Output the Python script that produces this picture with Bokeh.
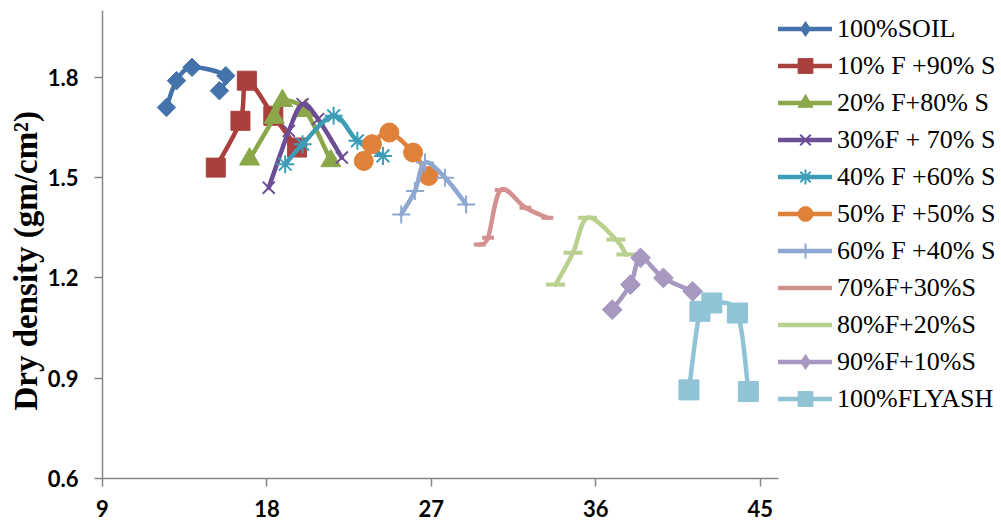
import numpy as np
from bokeh.plotting import figure
from bokeh.models import Range1d, Legend, LegendItem, FixedTicker, Title
from bokeh.embed import file_html
from bokeh.resources import INLINE

# ---------------- data (water content %, dry density) ----------------
series_labels = ["100%SOIL", "10% F +90% S", "20% F+80% S", "30%F + 70% S",
                 "40% F +60% S", "50% F +50% S", "60% F +40% S", "70%F+30%S",
                 "80%F+20%S", "90%F+10%S", "100%FLYASH"]

soil_x = [12.5, 13.05, 13.9, 15.75, 15.4]
soil_y = [1.71, 1.79, 1.83, 1.805, 1.76]

f10_x = [15.2, 16.55, 16.9, 18.35, 19.65]
f10_y = [1.53, 1.67, 1.79, 1.685, 1.59]

f20_x = [17.05, 18.4, 18.85, 20.1, 21.5]
f20_y = [1.555, 1.68, 1.73, 1.70, 1.55]

f30_x = [18.1, 19.2, 19.95, 20.8, 22.1]
f30_y = [1.47, 1.64, 1.72, 1.675, 1.56]

f40_x = [19.0, 19.95, 21.65, 22.95, 24.35]
f40_y = [1.54, 1.60, 1.685, 1.61, 1.565]

f50_x = [23.3, 23.75, 24.7, 26.0, 26.85]
f50_y = [1.55, 1.60, 1.635, 1.575, 1.505]

f60_x = [25.35, 26.1, 26.65, 27.75, 28.9]
f60_y = [1.39, 1.46, 1.545, 1.50, 1.42]

f70_x = [29.65, 30.1, 30.8, 32.15, 33.35]
f70_y = [1.30, 1.32, 1.463, 1.41, 1.38]

f80_x = [33.8, 34.75, 35.55, 37.1, 37.65]
f80_y = [1.18, 1.275, 1.38, 1.315, 1.27]

f90_x = [36.9, 37.9, 38.45, 39.7, 41.3]
f90_y = [1.105, 1.18, 1.26, 1.20, 1.16]

fly_x = [41.1, 41.7, 42.35, 43.75, 44.35]
fly_y = [0.865, 1.10, 1.125, 1.095, 0.86]

x_ticks = [9, 18, 27, 36, 45]
y_ticks = [0.6, 0.9, 1.2, 1.5, 1.8]
y_title = "Dry density (gm/cm²)"

# ---------------- styles ----------------
colors = ["#4472AA", "#AA403D", "#8AA84A", "#6C4E95", "#3D9DB6", "#E0813A",
          "#8EA8D1", "#D4918F", "#B9D08F", "#A698C1", "#8FC3D5"]
# (marker, size, angle, line width, legend marker)
markers = [("square", 13, np.pi / 4, 1, "diamond"), ("square", 19, 0, 1, None),
           ("triangle", 20, 0, 1, None), ("x", 17, 0, 2, None),
           ("asterisk", 18, 0, 2, None), ("circle", 19, 0, 1, None),
           ("cross", 18, 0, 2, None), ("dash", 12, 0, 4, None), ("dash", 19, 0, 4, None),
           ("square", 14, np.pi / 4, 1, "diamond"), ("square", 20, 0, 1, None)]

all_x = [soil_x, f10_x, f20_x, f30_x, f40_x, f50_x, f60_x, f70_x, f80_x, f90_x, fly_x]
all_y = [soil_y, f10_y, f20_y, f30_y, f40_y, f50_y, f60_y, f70_y, f80_y, f90_y, fly_y]

p = figure(frame_width=676, frame_height=468, output_backend="svg", toolbar_location=None,
           x_range=Range1d(9, 46), y_range=Range1d(0.6, 2.0),
           min_border_left=102, min_border_right=221, min_border_top=10, min_border_bottom=47)
p.outline_line_color = None
p.xgrid.visible = False
p.ygrid.visible = False
p.background_fill_color = "white"
p.border_fill_color = "white"

for ax in (p.xaxis[0], p.yaxis[0]):
    ax.axis_line_color = "#868686"
    ax.axis_line_width = 1.5
    ax.major_tick_line_color = "#868686"
    ax.major_tick_line_width = 1.5
    ax.major_tick_in = 0
    ax.major_tick_out = 8
    ax.minor_tick_line_color = None
    ax.major_label_text_font = "Lato"
    ax.major_label_text_font_style = "bold"
    ax.major_label_text_font_size = "22px"
    ax.major_label_text_color = "black"

p.xaxis.ticker = FixedTicker(ticks=x_ticks)
p.yaxis.ticker = FixedTicker(ticks=y_ticks)
p.xaxis.major_label_standoff = 13
p.yaxis.major_label_standoff = 16

title = Title(text=y_title, align="left", offset=68, text_font="Liberation Serif",
              text_font_style="bold", text_font_size="33px", text_color="black",
              standoff=2)
p.add_layout(title, "left")


def smooth_controls(xs, ys, t=1.0 / 6.0):
    xs = np.asarray(xs, float)
    ys = np.asarray(ys, float)
    n = len(xs)
    xp = np.concatenate([[xs[0]], xs, [xs[-1]]])
    yp = np.concatenate([[ys[0]], ys, [ys[-1]]])
    x0, y0, x1, y1, cx0, cy0, cx1, cy1 = ([] for _ in range(8))
    for i in range(n - 1):
        a, b, c, d = i, i + 1, i + 2, i + 3
        x0.append(xp[b]); y0.append(yp[b]); x1.append(xp[c]); y1.append(yp[c])
        cx0.append(xp[b] + (xp[c] - xp[a]) * t); cy0.append(yp[b] + (yp[c] - yp[a]) * t)
        cx1.append(xp[c] - (xp[d] - xp[b]) * t); cy1.append(yp[c] - (yp[d] - yp[b]) * t)
    return dict(x0=x0, y0=y0, x1=x1, y1=y1, cx0=cx0, cy0=cy0, cx1=cx1, cy1=cy1)


items = []
for lab, xs, ys, col, (mk, sz, ang, lw, lmk) in zip(series_labels, all_x, all_y, colors, markers):
    c = smooth_controls(xs, ys)
    p.bezier(line_color=col, line_width=4.5, line_cap="round", **c)
    proxy = p.line(x=[np.nan], y=[np.nan], line_color=col, line_width=4.5, line_cap="round")
    sc = p.scatter(xs, ys, marker=mk, size=sz, angle=ang, line_color=col,
                   line_width=lw, fill_color=col)
    rends = [proxy, sc]
    if lmk is not None:
        lsc = p.scatter(x=[np.nan], y=[np.nan], marker=lmk, size=sz, line_color=col,
                        line_width=lw, fill_color=col)
        rends = [proxy, lsc]
    items.append(LegendItem(label=lab, renderers=rends))

legend = Legend(items=items, location="top_left", glyph_width=54, glyph_height=37,
                label_height=37, spacing=0, padding=0, margin=0, label_standoff=5,
                label_text_font="Liberation Serif", label_text_font_size="26px",
                label_text_color="black", border_line_alpha=0, background_fill_alpha=0)
p.add_layout(legend, "right")

open("out.html", "w").write(file_html(p, INLINE))
